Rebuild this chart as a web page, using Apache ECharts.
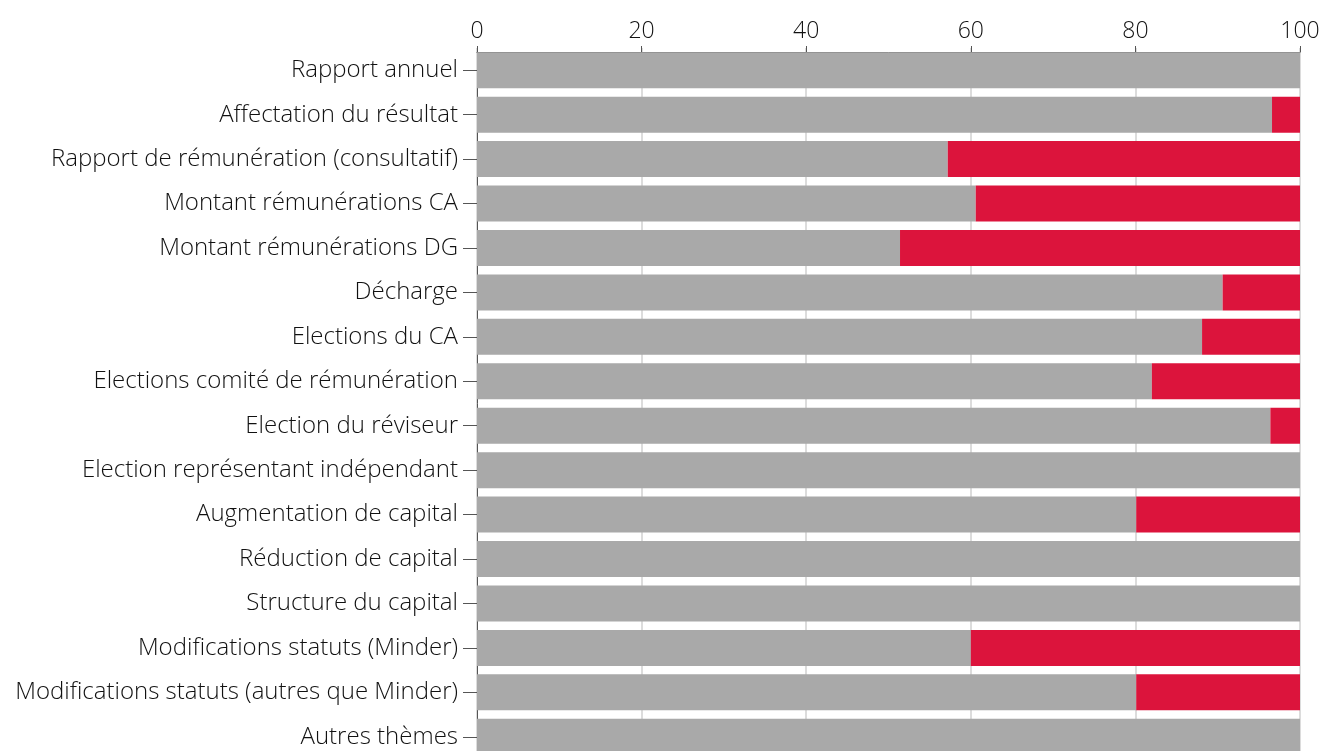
<!DOCTYPE html>
<html><head><meta charset="utf-8">
<script src="https://cdn.jsdelivr.net/npm/echarts@6/dist/echarts.min.js"></script>
<style>html,body{margin:0;padding:0;background:#fff;overflow:hidden}#c{width:1324px;height:759px}</style>
</head><body><div id="c"></div>
<script>
const categories = [
  "Rapport annuel",
  "Affectation du résultat",
  "Rapport de rémunération (consultatif)",
  "Montant rémunérations CA",
  "Montant rémunérations DG",
  "Décharge",
  "Elections du CA",
  "Elections comité de rémunération",
  "Election du réviseur",
  "Election représentant indépendant",
  "Augmentation de capital",
  "Réduction de capital",
  "Structure du capital",
  "Modifications statuts (Minder)",
  "Modifications statuts (autres que Minder)",
  "Autres thèmes"
];
const grayValues = [100, 96.6, 57.2, 60.6, 51.4, 90.6, 88.1, 82.0, 96.4, 100, 80.1, 100, 100, 60.0, 80.1, 100];
const redValues  = [0, 3.4, 42.8, 39.4, 48.6, 9.4, 11.9, 18.0, 3.6, 0, 19.9, 0, 0, 40.0, 19.9, 0];
const xTicks = [0, 20, 40, 60, 80, 100];

const FONT = '"Open Sans", "Liberation Sans", sans-serif';
const chart = echarts.init(document.getElementById('c'));
chart.setOption({
  animation: false,
  grid: { left: 477, right: 24, top: 48, bottom: 0, containLabel: false },
  xAxis: {
    type: 'value', position: 'top', min: 0, max: 100, interval: 20, offset: -4,
    axisLine: { show: true, lineStyle: { color: '#555', width: 1 } },
    axisTick: { show: true, length: 6, lineStyle: { color: '#555' } },
    axisLabel: { fontSize: 23, fontWeight: 300, color: '#111', fontFamily: FONT, margin: 9,
      formatter: v => xTicks.includes(v) ? String(v) : '' },
    splitLine: { show: true, lineStyle: { color: '#dcdcdc', width: 2 } }
  },
  yAxis: {
    type: 'category', data: categories, inverse: true,
    axisLine: { show: true, lineStyle: { color: '#555', width: 1 } },
    axisTick: { show: true, alignWithLabel: true, length: 14, lineStyle: { color: '#555' } },
    axisLabel: { fontSize: 24, fontWeight: 300, color: '#111', fontFamily: FONT, margin: 19 }
  },
  series: [
    { type: 'bar', stack: 't', data: grayValues, barWidth: 36, itemStyle: { color: '#a9a9a9' } },
    { type: 'bar', stack: 't', data: redValues, barWidth: 36, itemStyle: { color: '#dc143c' } }
  ]
});
</script></body></html>
